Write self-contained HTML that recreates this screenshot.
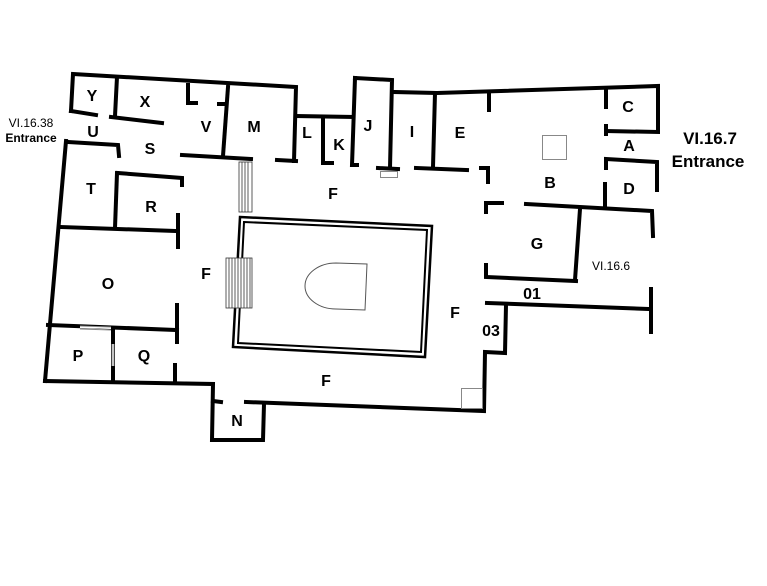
<!DOCTYPE html>
<html><head><style>html,body{margin:0;padding:0;background:#fff}svg{display:block}text{font-family:"Liberation Sans",Arial,sans-serif}</style></head>
<body>
<svg width="767" height="586" viewBox="0 0 767 586" xmlns="http://www.w3.org/2000/svg">
<g stroke="#000" stroke-width="4" fill="none" stroke-linecap="square">
<polyline points="71,111 73,74 296,87 294,161"/>
<line x1="71" y1="111" x2="96" y2="115"/>
<polyline points="117,77 115,116"/>
<line x1="111" y1="117" x2="162" y2="123"/>
<polyline points="188,85 188,103 196,103"/>
<line x1="219" y1="104" x2="223" y2="104"/>
<line x1="228" y1="87" x2="223" y2="156"/>
<line x1="182" y1="155" x2="251" y2="159"/>
<line x1="277" y1="160" x2="296" y2="161"/>
<line x1="296" y1="116" x2="353" y2="117"/>
<polyline points="323,118 323,163 332,163"/>
<polyline points="355,78 392,80 390,168"/>
<polyline points="355,78 352,165 357,165"/>
<line x1="378" y1="168" x2="398" y2="169"/>
<polyline points="395,92 437,93 658,86 658,132 607,131"/>
<line x1="435" y1="93" x2="433" y2="167"/>
<line x1="416" y1="168" x2="467" y2="170"/>
<line x1="489" y1="94" x2="489" y2="110"/>
<polyline points="481,168 488,168 488,182"/>
<polyline points="502,203 486,203 486,212"/>
<polyline points="526,204 652,211 653,236"/>
<line x1="580" y1="209" x2="575" y2="280"/>
<polyline points="486,265 486,277 576,281"/>
<line x1="606" y1="89" x2="606" y2="107"/>
<line x1="606" y1="126" x2="606" y2="134"/>
<polyline points="606,168 606,159 657,162 657,190"/>
<line x1="605" y1="184" x2="605" y2="207"/>
<polyline points="68,142 118,145 119,156"/>
<line x1="66" y1="141" x2="45" y2="381"/>
<line x1="117" y1="173" x2="115" y2="228"/>
<polyline points="118,173 182,178 182,185"/>
<line x1="60" y1="227" x2="177" y2="231"/>
<line x1="178" y1="215" x2="178" y2="247"/>
<line x1="48" y1="325" x2="177" y2="330"/>
<line x1="177" y1="305" x2="177" y2="342"/>
<line x1="113" y1="329" x2="113" y2="381"/>
<line x1="175" y1="365" x2="175" y2="382"/>
<polyline points="45,381 213,384 212,440 263,440 264,404"/>
<line x1="213" y1="401" x2="221" y2="402"/>
<polyline points="246,402 484,411 485,352 505,353 506,305"/>
<line x1="487" y1="303" x2="650" y2="309"/>
<line x1="651" y1="289" x2="651" y2="332"/>
</g>
<g stroke="#fff" stroke-width="2">
<line x1="80" y1="327" x2="111" y2="328"/>
<line x1="113" y1="344" x2="113" y2="366"/>
</g>
<g stroke="#888" stroke-width="1" fill="none">
<rect x="380.5" y="171.5" width="17" height="6"/>
<rect x="542.5" y="135.5" width="24" height="24"/>
<rect x="461.5" y="388.5" width="21" height="20"/>
<line x1="80" y1="326" x2="111" y2="327"/>
<line x1="80" y1="329" x2="111" y2="330"/>
<line x1="112" y1="344" x2="112" y2="366"/>
<line x1="114" y1="344" x2="114" y2="366"/>
</g>
<g stroke="#000" fill="none">
<polygon points="240,217 432,226 425,357 233,347" stroke-width="2.5"/>
<polygon points="244,222 427,230 421,352 238,343" stroke-width="2"/>
<path d="M336,263 L367,264 L365,310 L336,309 A31,23 0 0 1 336,263 Z" stroke="#555" stroke-width="1"/>
</g>
<g stroke="#333" stroke-width="0.8" fill="#fff">
<rect x="239" y="162" width="13" height="50"/>
<rect x="226" y="258" width="26" height="50"/>
</g>
<g stroke="#333" stroke-width="0.8">
<line x1="242" y1="162" x2="242" y2="212"/><line x1="245" y1="162" x2="245" y2="212"/><line x1="248" y1="162" x2="248" y2="212"/>
<line x1="229" y1="258" x2="229" y2="308"/><line x1="232" y1="258" x2="232" y2="308"/><line x1="235" y1="258" x2="235" y2="308"/><line x1="238" y1="258" x2="238" y2="308"/><line x1="241" y1="258" x2="241" y2="308"/><line x1="244" y1="258" x2="244" y2="308"/><line x1="247" y1="258" x2="247" y2="308"/><line x1="250" y1="258" x2="250" y2="308"/>
</g>
<g font-size="16" font-weight="bold" text-anchor="middle" fill="#000">
<text x="92" y="101">Y</text><text x="145" y="107">X</text><text x="206" y="132">V</text><text x="254" y="132">M</text>
<text x="307" y="138">L</text><text x="339" y="150">K</text><text x="368" y="131">J</text><text x="412" y="137">I</text>
<text x="460" y="138">E</text><text x="628" y="112">C</text><text x="629" y="151">A</text><text x="550" y="188">B</text>
<text x="629" y="194">D</text><text x="537" y="249">G</text><text x="333" y="199">F</text><text x="206" y="279">F</text>
<text x="455" y="318">F</text><text x="326" y="386">F</text><text x="491" y="336">03</text><text x="532" y="299">01</text>
<text x="108" y="289">O</text><text x="78" y="361">P</text><text x="144" y="361">Q</text><text x="237" y="426">N</text>
<text x="91" y="194">T</text><text x="151" y="212">R</text><text x="150" y="154">S</text><text x="93" y="137">U</text>
</g>
<g font-size="12" text-anchor="middle" fill="#000">
<text x="31" y="127">VI.16.38</text><text x="31" y="142" font-weight="bold">Entrance</text>
<text x="611" y="270">VI.16.6</text>
</g>
<g font-size="17" font-weight="bold" text-anchor="middle" fill="#000">
<text x="710" y="144">VI.16.7</text><text x="708" y="167">Entrance</text>
</g>
</svg>
</body></html>
